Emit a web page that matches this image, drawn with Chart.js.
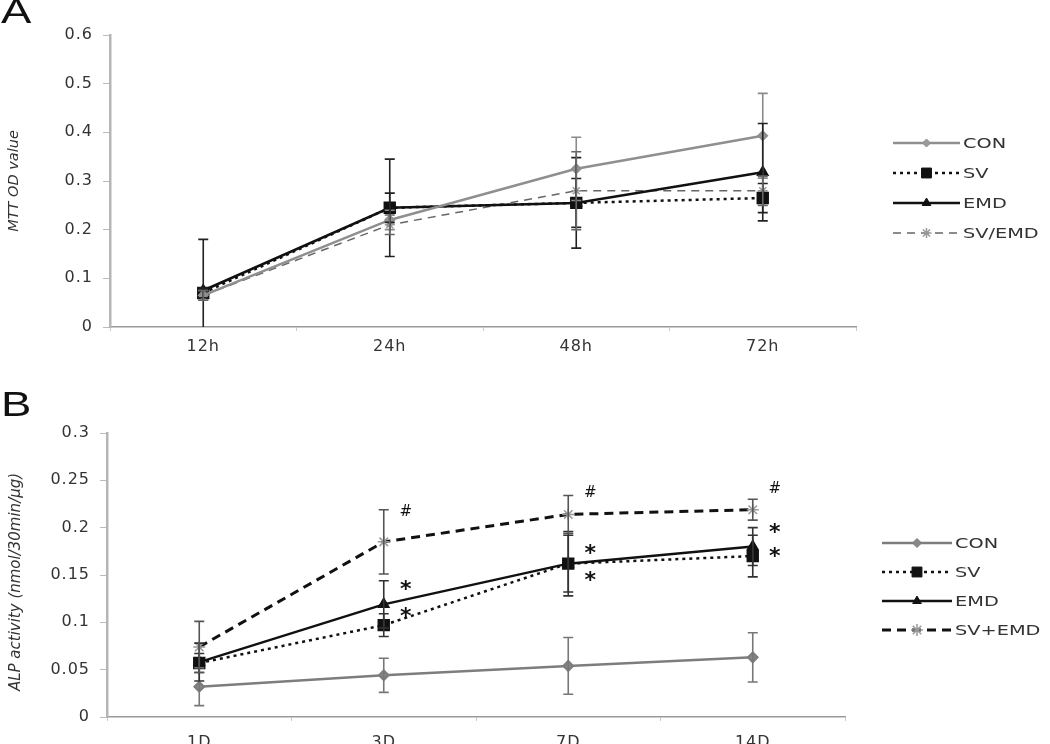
<!DOCTYPE html>
<html><head><meta charset="utf-8">
<script src="https://cdn.jsdelivr.net/npm/chart.js@4/dist/chart.umd.min.js"></script>
<style>
html,body{margin:0;padding:0;background:#fff;width:1050px;height:744px;overflow:hidden;}
.wrap{position:absolute;left:0;width:1050px;}
.panel{position:absolute;font-family:"Liberation Sans",Arial,sans-serif;font-size:35px;color:#111;line-height:1;transform:scaleX(1.3);transform-origin:left top;}
</style></head>
<body>
<div class="wrap" style="top:0;height:370px;"><canvas id="cA"></canvas></div>
<div class="wrap" style="top:370px;height:374px;"><canvas id="cB"></canvas></div>
<div class="panel" style="left:1px;top:-7px;">A</div>
<div class="panel" style="left:1px;top:386px;">B</div>
<script>
// ---------- Data ----------
const timeLabelsA = ['12h','24h','48h','72h'];
const seriesNamesA = ['CON','SV','EMD','SV/EMD'];
const conA   = [0.065, 0.220, 0.325, 0.393];
const conAErr= [0.010, 0.020, 0.065, 0.087];
const svA    = [0.070, 0.245, 0.255, 0.265];
const svAErr = [0.010, 0.100, 0.093, 0.030];
const emdA   = [0.075, 0.245, 0.255, 0.318];
const emdAErr= [0.105, 0.030, 0.050, 0.100];
const svemdA = [0.065, 0.210, 0.280, 0.280];
const svemdAErr=[0.010, 0.020, 0.080, 0.030];
const yTicksA = {min:0, max:0.6, step:0.1};

const dayLabelsB = ['1D','3D','7D','14D'];
const seriesNamesB = ['CON','SV','EMD','SV+EMD'];
const conB   = [0.032, 0.044, 0.054, 0.063];
const conBErr= [0.020, 0.018, 0.030, 0.026];
const svB    = [0.057, 0.097, 0.162, 0.170];
const svBErr = [0.010, 0.012, 0.030, 0.022];
const emdB   = [0.058, 0.119, 0.162, 0.180];
const emdBErr= [0.020, 0.025, 0.034, 0.020];
const svemdB = [0.074, 0.185, 0.214, 0.219];
const svemdBErr=[0.027, 0.034, 0.020, 0.011];
const yTicksB = {min:0, max:0.3, step:0.05};

// significance marks (category index, value level, symbol)
const markCatB  = [1, 1, 1, 2, 2, 2, 3, 3, 3];
const markValB  = [0.2165, 0.138, 0.110, 0.2365, 0.176, 0.148, 0.241, 0.198, 0.173];
const markTextB = ['#', '*', '*', '#', '*', '*', '#', '*', '*'];

// ---------- Plugins ----------
const spacingPlugin = {
  id:'spacing',
  beforeDraw(chart){ chart.ctx.letterSpacing = '1px'; },
  afterDraw(chart){ chart.ctx.letterSpacing = '0px'; }
};

const yTitlePlugin = {
  id:'yTitle',
  afterDraw(chart, args, opts){
    const ctx = chart.ctx, ca = chart.chartArea;
    ctx.save();
    ctx.letterSpacing = '0px';
    ctx.translate(opts.x, (ca.top + ca.bottom)/2 + (opts.dy||0));
    ctx.rotate(-Math.PI/2);
    ctx.font = opts.font;
    ctx.fillStyle = '#333';
    ctx.textAlign = 'center';
    ctx.textBaseline = 'middle';
    ctx.fillText(opts.text, 0, 0);
    ctx.restore();
  }
};

const errorBarPlugin = {
  id:'errorBars',
  afterDatasetsDraw(chart){
    const ctx = chart.ctx, y = chart.scales.y;
    chart.data.datasets.forEach((ds,di)=>{
      if(!ds.errors) return;
      const meta = chart.getDatasetMeta(di);
      ctx.save();
      ctx.strokeStyle = ds.errorColor || ds.borderColor;
      ctx.lineWidth = 1.6;
      ctx.setLineDash([]);
      meta.data.forEach((pt,i)=>{
        const v = ds.data[i], e = ds.errors[i];
        const lo = Math.max(y.min, v-e), hi = Math.min(y.max, v+e);
        const yt = y.getPixelForValue(hi), yb = y.getPixelForValue(lo);
        const x = pt.x, c = 5;
        ctx.beginPath();
        ctx.moveTo(x,yt); ctx.lineTo(x,yb);
        ctx.moveTo(x-c,yt); ctx.lineTo(x+c,yt);
        if (v-e > y.min) { ctx.moveTo(x-c,yb); ctx.lineTo(x+c,yb); }
        ctx.stroke();
      });
      ctx.restore();
    });
  }
};

const sideLegendPlugin = {
  id:'sideLegend',
  afterDraw(chart, args, opts){
    const ctx = chart.ctx;
    chart.data.datasets.forEach((ds,i)=>{
      const yy = opts.y0 + i*opts.gap;
      const x0 = opts.x, x1 = opts.x + opts.len;
      ctx.save();
      ctx.letterSpacing = '0px';
      ctx.strokeStyle = ds.borderColor;
      ctx.lineWidth = ds.borderWidth;
      ctx.setLineDash(ds.borderDash || []);
      ctx.beginPath(); ctx.moveTo(x0,yy); ctx.lineTo(x1,yy); ctx.stroke();
      ctx.setLineDash([]);
      ctx.fillStyle = ds.pointBackgroundColor;
      ctx.strokeStyle = ds.pointBorderColor;
      ctx.lineWidth = ds.pointBorderWidth || 1;
      Chart.helpers.drawPoint(ctx, {pointStyle: ds.pointStyle, radius: ds.pointRadius, rotation:0, borderWidth: ds.pointBorderWidth||1}, (x0+x1)/2, yy);
      ctx.fillStyle = '#333';
      ctx.font = opts.font;
      ctx.textBaseline = 'middle';
      ctx.textAlign = 'left';
      ctx.translate(x1 + 3, yy + 1);
      ctx.scale(1.38, 1);
      ctx.fillText(ds.label, 0, 0);
      ctx.restore();
    });
  }
};

const marksPlugin = {
  id:'marks',
  afterDatasetsDraw(chart, args, opts){
    if(!opts.cats) return;
    const ctx = chart.ctx, xs = chart.scales.x, ys = chart.scales.y;
    ctx.save();
    ctx.letterSpacing = '0px';
    ctx.fillStyle = '#111';
    ctx.textAlign = 'center';
    ctx.textBaseline = 'middle';
    opts.cats.forEach((c,i)=>{
      const t = opts.texts[i];
      ctx.font = t === '*' ? 'bold 22px "DejaVu Sans", sans-serif' : '15px "DejaVu Sans", sans-serif';
      const x = xs.getPixelForValue(c) + 22;
      const y = ys.getPixelForValue(opts.vals[i]) + (t === '*' ? 4 : 0);
      ctx.fillText(t, x, y);
    });
    ctx.restore();
  }
};

// ---------- Helpers ----------
const tickFont = {family:'"DejaVu Sans", sans-serif', size:16};
function mkDataset(label, data, errors, style){
  return Object.assign({label, data, errors, fill:false, tension:0, pointHoverRadius:0}, style);
}
function mkOptions(cfg){
  return {
    responsive:true, maintainAspectRatio:false, animation:false,
    layout:{padding:{left:0, right:cfg.right, top:cfg.top, bottom:0}},
    plugins:{
      legend:{display:false}, tooltip:{enabled:false},
      sideLegend: cfg.legend,
      marks: cfg.marks || {},
      yTitle: cfg.yTitle
    },
    scales:{
      x:{
        type:'category', offset:true,
        grid:{display:true, drawOnChartArea:false, drawTicks:true, tickLength:4, color:'#ccc', offset:true},
        border:{color:'#9a9a9a', width:1.5},
        ticks:{font:tickFont, color:'#333', padding:cfg.xPad},
        afterFit(s){ s.height = cfg.xH; }
      },
      y:{
        min:cfg.yt.min, max:cfg.yt.max,
        grid:{display:true, drawOnChartArea:false, drawTicks:true, tickLength:7, color:'#bbb'},
        border:{color:'#b5b5b5', width:2.5},
        ticks:{stepSize:cfg.yt.step, font:tickFont, color:'#333', padding:10,
          callback:(v)=> String(+v.toFixed(2))},
        afterFit(s){ s.width = cfg.yW; }
      }
    }
  };
}

// ---------- Chart A ----------
new Chart(document.getElementById('cA'), {
  type:'line',
  data:{
    labels: timeLabelsA,
    datasets:[
      mkDataset(seriesNamesA[0], conA, conAErr, {borderColor:'#8f8f8f', borderWidth:2.5, pointStyle:'rectRot', pointRadius:4,
        pointBackgroundColor:'#9a9a9a', pointBorderColor:'#8f8f8f', errorColor:'#8a8a8a'}),
      mkDataset(seriesNamesA[1], svA, svAErr, {borderColor:'#111', borderWidth:2.5, borderDash:[3,4], pointStyle:'rect', pointRadius:7,
        pointBackgroundColor:'#111', pointBorderColor:'#111', errorColor:'#222'}),
      mkDataset(seriesNamesA[2], emdA, emdAErr, {borderColor:'#111', borderWidth:2.5, pointStyle:'triangle', pointRadius:5,
        pointBackgroundColor:'#111', pointBorderColor:'#111', errorColor:'#222'}),
      mkDataset(seriesNamesA[3], svemdA, svemdAErr, {borderColor:'#666', borderWidth:1.5, borderDash:[8,6], pointStyle:'star', pointRadius:5,
        pointBackgroundColor:'#999', pointBorderColor:'#999', pointBorderWidth:1.5, errorColor:'#666'})
    ]
  },
  options: mkOptions({right:194, top:35, xH:43, xPad:6, yW:110, yt:yTicksA,
    yTitle:{text:'MTT OD value', x:14, dy:0, font:'italic 14.5px "DejaVu Sans", sans-serif'},
    legend:{x:893, y0:143, gap:30, len:67, font:'14px "DejaVu Sans", sans-serif'}}),
  plugins:[spacingPlugin, errorBarPlugin, sideLegendPlugin, marksPlugin, yTitlePlugin]
});

// ---------- Chart B ----------
new Chart(document.getElementById('cB'), {
  type:'line',
  data:{
    labels: dayLabelsB,
    datasets:[
      mkDataset(seriesNamesB[0], conB, conBErr, {borderColor:'#7d7d7d', borderWidth:2.5, pointStyle:'rectRot', pointRadius:4.5,
        pointBackgroundColor:'#888', pointBorderColor:'#7d7d7d', errorColor:'#777'}),
      mkDataset(seriesNamesB[1], svB, svBErr, {borderColor:'#111', borderWidth:2.5, borderDash:[3,4], pointStyle:'rect', pointRadius:7,
        pointBackgroundColor:'#111', pointBorderColor:'#111', errorColor:'#333'}),
      mkDataset(seriesNamesB[2], emdB, emdBErr, {borderColor:'#111', borderWidth:2.5, pointStyle:'triangle', pointRadius:5,
        pointBackgroundColor:'#111', pointBorderColor:'#111', errorColor:'#333'}),
      mkDataset(seriesNamesB[3], svemdB, svemdBErr, {borderColor:'#111', borderWidth:3, borderDash:[9,6], pointStyle:'star', pointRadius:6,
        pointBackgroundColor:'#aaa', pointBorderColor:'#999', pointBorderWidth:1.5, errorColor:'#555'})
    ]
  },
  options: mkOptions({right:205, top:63, xH:27, xPad:12, yW:107, yt:yTicksB,
    yTitle:{text:'ALP activity (nmol/30min/\u03bcg)', x:16, dy:7, font:'italic 15px "DejaVu Sans", sans-serif'},
    legend:{x:882, y0:173, gap:29, len:70, font:'14px "DejaVu Sans", sans-serif'},
    marks:{cats:markCatB, vals:markValB, texts:markTextB}}),
  plugins:[spacingPlugin, errorBarPlugin, sideLegendPlugin, marksPlugin, yTitlePlugin]
});
</script>
</body></html>
